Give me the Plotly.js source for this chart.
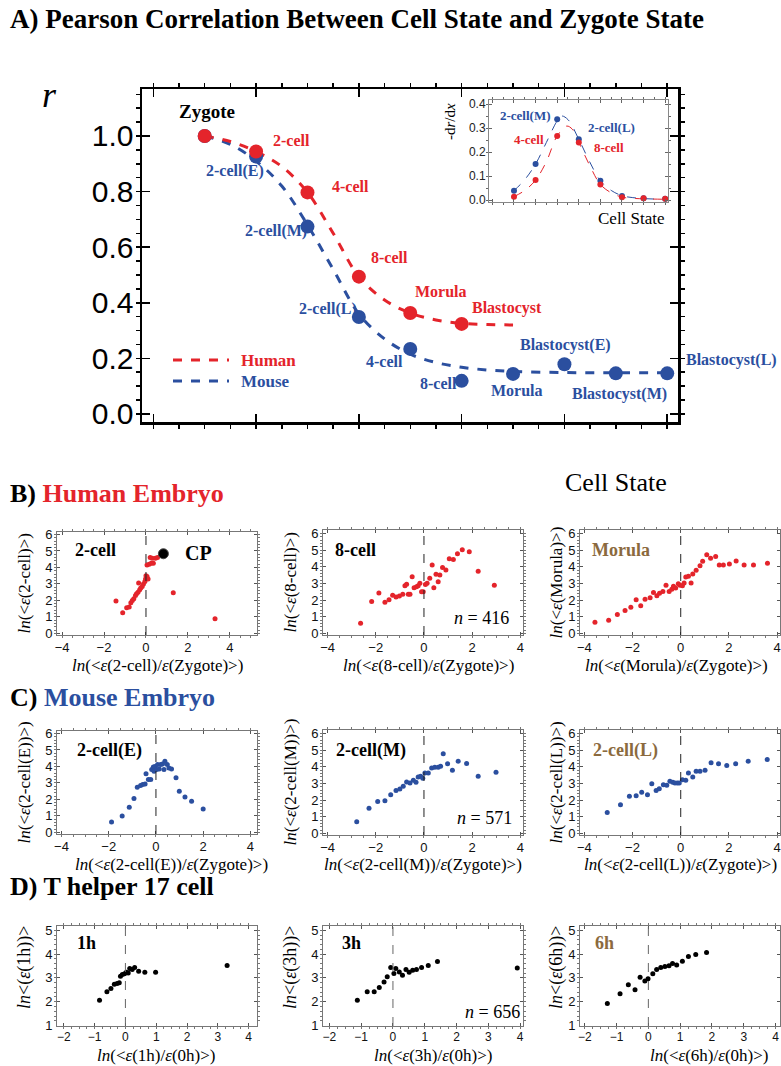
<!DOCTYPE html>
<html><head><meta charset="utf-8">
<script src="https://cdn.plot.ly/plotly-3.0.1.min.js"></script>
<style>html,body{margin:0;padding:0;background:#fff}#chart{width:781px;height:1066px}</style>
</head><body><div id="chart"></div>
<script>
// ---------- Panel A: main correlation ----------
const humanStages = ["Zygote","2-cell","4-cell","8-cell","Morula","Blastocyst"];
const humanR = [1.0, 0.944, 0.797, 0.494, 0.363, 0.324];
const mouseStages = ["Zygote","2-cell(E)","2-cell(M)","2-cell(L)","4-cell","8-cell","Morula","Blastocyst(E)","Blastocyst(M)","Blastocyst(L)"];
const mouseR = [1.0, 0.926, 0.674, 0.349, 0.234, 0.119, 0.144, 0.179, 0.146, 0.146];
const humanFitX = [1,1.5,2,2.5,3,3.5,4,4.5,5,5.5,6,6.5,7];
const humanFitR = [1.0,0.98,0.944,0.89,0.797,0.65,0.494,0.41,0.363,0.338,0.326,0.322,0.32];
const mouseFitX = [1,1.5,2,2.5,3,3.5,4,4.5,5,5.5,6,6.5,7,8,9,10];
const mouseFitR = [1.0,0.97,0.91,0.82,0.68,0.52,0.36,0.27,0.215,0.185,0.168,0.158,0.153,0.149,0.148,0.148];
const yTicksA = [0.0,0.2,0.4,0.6,0.8,1.0];

// ---------- Panel A inset: -dr/dx ----------
const insetBlue = [0.039,0.15,0.336,0.253,0.08,0.017,0.007,0.005];
const insetRed  = [0.014,0.083,0.267,0.24,0.065,0.011,0.007,0.005];
const insetBlueFitX = [1,1.5,2,2.5,3,3.2,3.5,4,4.5,5,5.5,6,6.5,7,7.5,8];
const insetBlueFitY = [0.039,0.085,0.15,0.24,0.33,0.35,0.335,0.253,0.16,0.08,0.04,0.018,0.01,0.006,0.004,0.003];
const insetRedFitX = [1,1.5,2,2.5,3,3.44,3.7,4,4.5,5,5.5,6,6.5,7,8];
const insetRedFitY = [0.014,0.04,0.083,0.16,0.267,0.308,0.295,0.24,0.145,0.065,0.03,0.012,0.007,0.005,0.003];

// ---------- Panel B: Human embryo ----------
const h2cellX = [-1.43,-1.11,-0.92,-0.8,-0.72,-0.65,-0.58,-0.5,-0.45,-0.38,-0.3,-0.25,-0.35,-0.18,-0.12,-0.05,-0.02,0.0,0.05,0.1,0.05,0.15,0.25,0.35,0.2,0.3,0.45,0.55,1.3,3.29];
const h2cellY = [1.97,1.25,1.55,1.6,1.85,2.0,2.1,2.3,2.4,2.5,2.65,2.75,3.05,2.85,3.0,3.15,3.3,3.5,3.45,3.3,4.15,4.2,4.25,4.25,4.6,4.55,4.55,4.6,2.46,0.88];
const cpX = [0.83], cpY = [4.83];
const h8cellX = [-2.63,-2.17,-1.87,-1.62,-1.45,-1.3,-1.16,-1.02,-0.88,-0.79,-0.72,-0.65,-0.58,-0.49,-0.41,-0.31,-0.24,-0.17,-0.1,-0.03,0.06,0.13,0.24,0.34,0.41,0.5,0.59,0.66,0.77,0.91,1.05,1.22,1.39,1.59,1.88,2.25,2.92];
const h8cellY = [0.6,1.91,2.42,1.87,2.02,2.28,2.18,2.24,2.35,2.85,2.95,2.35,2.35,3.4,2.74,2.8,2.85,3.0,2.5,2.5,2.93,3.0,3.3,4.1,2.74,3.54,3.1,3.5,3.95,3.8,4.47,4.43,4.77,5.02,4.9,3.72,2.88];
const hMorulaX = [-3.56,-2.99,-2.63,-2.31,-2.07,-1.85,-1.66,-1.48,-1.27,-1.13,-0.99,-0.88,-0.74,-0.61,-0.48,-0.37,-0.3,-0.21,-0.1,-0.03,0.07,0.14,0.21,0.32,0.43,0.5,0.64,0.8,0.91,1.08,1.24,1.45,1.6,1.77,2.02,2.3,2.63,3.02,3.6];
const hMorulaY = [0.66,0.79,1.13,1.37,1.57,2.01,1.65,2.05,2.13,2.45,2.25,2.41,2.51,2.88,2.51,2.65,2.82,2.72,2.98,2.88,2.86,3.02,3.38,3.42,3.02,3.56,3.78,4.06,4.32,4.72,4.51,4.61,4.1,4.1,4.16,4.34,4.1,4.1,4.2];

// ---------- Panel C: Mouse embryo ----------
const m2cellEX = [-1.88,-1.43,-1.13,-0.93,-0.79,-0.65,-0.56,-0.46,-0.42,-0.32,-0.22,-0.18,-0.11,-0.08,-0.04,0.03,0.07,0.14,0.2,0.28,0.34,0.38,0.48,0.55,0.66,0.85,0.99,1.23,1.51,2.0];
const m2cellEY = [0.63,0.99,1.52,2.05,2.74,2.84,2.9,2.94,3.55,3.2,3.2,3.81,3.97,3.71,4.0,3.81,4.11,3.85,4.11,4.15,3.81,4.31,4.11,3.91,3.85,3.31,2.5,2.15,1.88,1.42];
const m2cellMX = [-2.79,-2.28,-1.92,-1.62,-1.38,-1.16,-1.0,-0.86,-0.72,-0.58,-0.44,-0.33,-0.24,-0.14,-0.05,0.04,0.18,0.32,0.45,0.59,0.69,0.8,0.98,1.18,1.42,1.77,2.25,2.99];
const m2cellMY = [0.7,1.5,1.91,1.95,2.31,2.57,2.66,2.82,3.08,3.02,3.18,3.06,3.38,3.42,3.3,3.62,3.62,3.92,3.96,3.96,4.02,4.77,4.17,3.78,4.33,4.19,3.42,3.66];
const m2cellLX = [-3.05,-2.5,-2.13,-1.85,-1.62,-1.38,-1.2,-1.02,-0.89,-0.72,-0.58,-0.45,-0.33,-0.24,-0.14,-0.06,0.07,0.21,0.32,0.5,0.64,0.8,1.01,1.26,1.57,1.91,2.28,2.8,3.59];
const m2cellLY = [1.25,1.72,2.22,2.26,2.46,2.31,2.98,2.57,2.67,2.92,2.88,3.12,3.06,3.02,3.02,3.02,3.22,3.18,3.62,3.38,3.72,3.72,3.78,4.23,4.17,4.07,4.17,4.33,4.43];

// ---------- Panel D: T helper 17 cell ----------
const th1hX = [-0.84,-0.6,-0.47,-0.36,-0.27,-0.2,-0.16,-0.1,-0.03,0.03,0.09,0.14,0.22,0.3,0.43,0.63,0.98,3.3];
const th1hY = [2.06,2.42,2.55,2.73,2.77,2.8,3.07,3.14,3.17,3.24,3.21,3.39,3.35,3.44,3.28,3.24,3.24,3.52];
const th3hX = [-1.12,-0.81,-0.59,-0.43,-0.28,-0.18,-0.07,0.03,0.09,0.2,0.3,0.41,0.51,0.62,0.74,0.9,1.11,1.4,3.91];
const th3hY = [2.06,2.42,2.42,2.6,2.83,3.05,3.44,3.18,3.39,3.25,3.11,3.35,3.24,3.32,3.35,3.44,3.52,3.69,3.42];
const th6hX = [-1.29,-0.89,-0.63,-0.42,-0.26,-0.11,-0.01,0.14,0.26,0.39,0.52,0.65,0.76,0.89,1.07,1.26,1.49,1.83];
const th6hY = [1.92,2.33,2.71,2.5,3.03,2.87,2.96,3.17,3.35,3.44,3.48,3.51,3.61,3.54,3.7,3.9,3.98,4.07];

// ---------- styling ----------
const W = 781, H = 1066;
const RED = '#e4242b', BLUE = '#2b4f9f', BROWN = '#8b6a3e', BLACK = '#000';
const SERIF = 'Liberation Serif, Times New Roman, serif';
const SANS = 'Liberation Sans, Arial, sans-serif';
const pxX = v => v / W;
const pxY = v => 1 - v / H;
const dom = (a, b) => [a / W, b / W];
const domY = (top, bottom) => [1 - bottom / H, 1 - top / H];

const traces = [];
const idxH = humanStages.map((_, i) => i + 1);
const idxM = mouseStages.map((_, i) => i + 1);
traces.push({x: mouseFitX, y: mouseFitR, xaxis: 'x', yaxis: 'y', mode: 'lines', line: {color: BLUE, width: 3, dash: 'dash', shape: 'spline'}, hoverinfo: 'skip'});
traces.push({x: humanFitX, y: humanFitR, xaxis: 'x', yaxis: 'y', mode: 'lines', line: {color: RED, width: 3, dash: 'dash', shape: 'spline'}, hoverinfo: 'skip'});
traces.push({x: idxM, y: mouseR, text: mouseStages, xaxis: 'x', yaxis: 'y', mode: 'markers', marker: {color: BLUE, size: 14}});
traces.push({x: idxH, y: humanR, text: humanStages, xaxis: 'x', yaxis: 'y', mode: 'markers', marker: {color: RED, size: 14}});

const idxI = insetBlue.map((_, i) => i + 1);
traces.push({x: insetBlueFitX, y: insetBlueFitY, xaxis: 'x2', yaxis: 'y2', mode: 'lines', line: {color: BLUE, width: 1, dash: 'dash', shape: 'spline'}});
traces.push({x: insetRedFitX, y: insetRedFitY, xaxis: 'x2', yaxis: 'y2', mode: 'lines', line: {color: RED, width: 1, dash: 'dash', shape: 'spline'}});
traces.push({x: idxI, y: insetBlue, xaxis: 'x2', yaxis: 'y2', mode: 'markers', marker: {color: BLUE, size: 6}});
traces.push({x: idxI, y: insetRed, xaxis: 'x2', yaxis: 'y2', mode: 'markers', marker: {color: RED, size: 6}});

const panels = [
  {n: 3, xd: [57, 257], yd: [532, 635], xr: [-4.24, 5.29], yr: [-0.1, 6.15], xdt: 2, xs: h2cellX, ys: h2cellY, c: RED},
  {n: 4, xd: [323, 523], yd: [530, 635], xr: [-4.19, 4.11], yr: [-0.1, 6.2], xdt: 2, xs: h8cellX, ys: h8cellY, c: RED},
  {n: 5, xd: [580, 780], yd: [530, 635], xr: [-4.18, 4.12], yr: [-0.1, 6.2], xdt: 2, xs: hMorulaX, ys: hMorulaY, c: RED},
  {n: 6, xd: [57, 257], yd: [731, 834], xr: [-4.19, 4.28], yr: [-0.1, 6.15], xdt: 2, xs: m2cellEX, ys: m2cellEY, c: BLUE},
  {n: 7, xd: [323, 523], yd: [730, 835], xr: [-4.19, 4.11], yr: [-0.1, 6.2], xdt: 2, xs: m2cellMX, ys: m2cellMY, c: BLUE},
  {n: 8, xd: [580, 780], yd: [730, 835], xr: [-4.18, 4.12], yr: [-0.1, 6.2], xdt: 2, xs: m2cellLX, ys: m2cellLY, c: BLUE},
  {n: 9, xd: [57, 257], yd: [926, 1026], xr: [-2.22, 4.27], yr: [0.98, 5.18], xdt: 1, xs: th1hX, ys: th1hY, c: BLACK},
  {n: 10, xd: [323, 523], yd: [926, 1026], xr: [-2.2, 4.09], yr: [0.98, 5.18], xdt: 1, xs: th3hX, ys: th3hY, c: BLACK},
  {n: 11, xd: [580, 780], yd: [926, 1026], xr: [-2.15, 4.14], yr: [0.98, 5.18], xdt: 1, xs: th6hX, ys: th6hY, c: BLACK}
];

const layout = {
  width: W, height: H, margin: {l: 0, r: 0, t: 0, b: 0},
  paper_bgcolor: '#fff', plot_bgcolor: '#fff', showlegend: false,
  xaxis: {domain: dom(142, 678), range: [-0.22, 10.21], anchor: 'y', showgrid: false, zeroline: false,
    showline: true, linecolor: '#000', linewidth: 2.5, mirror: 'allticks', ticks: 'inside', ticklen: 8, tickwidth: 1.5,
    tickcolor: '#000', tick0: 0, dtick: 2, showticklabels: false,
    minor: {dtick: 0.5, ticklen: 4, tickwidth: 1.5, tickcolor: '#000', showgrid: false}},
  yaxis: {domain: domY(89, 422), range: [-0.029, 1.169], anchor: 'x', showgrid: false, zeroline: false,
    showline: true, linecolor: '#000', linewidth: 2.5, mirror: 'allticks', ticks: 'inside', ticklen: 8, tickwidth: 1.5,
    tickcolor: '#000', tickvals: yTicksA, tickformat: '.1f', tickfont: {family: SANS, size: 30, color: '#000'},
    minor: {dtick: 0.05, ticklen: 4, tickwidth: 1.5, tickcolor: '#000', showgrid: false}},
  xaxis2: {domain: dom(489, 668), range: [-0.157, 8.13], anchor: 'y2', showgrid: false, zeroline: false,
    showline: true, linecolor: '#888', linewidth: 1, mirror: 'allticks', ticks: 'inside', ticklen: 3, tickcolor: '#666',
    dtick: 1, tick0: 0, showticklabels: false, minor: {dtick: 0.5, ticklen: 2, tickcolor: '#666'}},
  yaxis2: {domain: domY(100, 202), range: [-0.0083, 0.4167], anchor: 'x2', showgrid: false, zeroline: false,
    showline: true, linecolor: '#888', linewidth: 1, mirror: 'allticks', ticks: 'inside', ticklen: 3, tickcolor: '#666',
    dtick: 0.1, tickformat: '.1f', tickfont: {family: SANS, size: 12, color: '#222'},
    minor: {dtick: 0.05, ticklen: 2, tickcolor: '#666'}},
  shapes: [], annotations: []
};

panels.forEach(p => {
  const xa = 'xaxis' + p.n, ya = 'yaxis' + p.n;
  layout[xa] = {domain: dom(p.xd[0], p.xd[1]), range: p.xr, anchor: 'y' + p.n, showgrid: false, zeroline: false,
    showline: true, linecolor: '#777', linewidth: 1, mirror: 'allticks', ticks: 'inside', ticklen: 3, tickcolor: '#555',
    dtick: p.xdt, tick0: 0, tickfont: {family: SANS, size: p.n >= 9 ? 12 : 13, color: '#111'},
    minor: {dtick: p.xdt / 4, ticklen: 2, tickcolor: '#777'}};
  layout[ya] = {domain: domY(p.yd[0], p.yd[1]), range: p.yr, anchor: 'x' + p.n, showgrid: false, zeroline: false,
    showline: true, linecolor: '#777', linewidth: 1, mirror: 'allticks', ticks: 'inside', ticklen: 3, tickcolor: '#555',
    dtick: 1, tick0: 0, tickfont: {family: SANS, size: 13, color: '#111'}, ticklabelstandoff: 1,
    minor: {dtick: 0.2, ticklen: 2, tickcolor: '#777'}};
  layout.shapes.push({type: 'line', xref: 'x' + p.n, yref: 'y' + p.n + ' domain', x0: 0, x1: 0, y0: 0, y1: 1,
    line: {color: p.n >= 9 ? '#666' : '#222', width: 1, dash: 'dash'}});
  traces.push({x: p.xs, y: p.ys, xaxis: 'x' + p.n, yaxis: 'y' + p.n, mode: 'markers', marker: {color: p.c, size: 5}});
});
traces.push({x: cpX, y: cpY, xaxis: 'x3', yaxis: 'y3', mode: 'markers', marker: {color: '#000', size: 10, line: {color: '#444', width: 1}}});

// legend samples for panel A
layout.shapes.push({type: 'line', xref: 'paper', yref: 'paper', x0: pxX(173), x1: pxX(229), y0: pxY(360), y1: pxY(360), line: {color: RED, width: 3, dash: 'dash'}});
layout.shapes.push({type: 'line', xref: 'paper', yref: 'paper', x0: pxX(173), x1: pxX(229), y0: pxY(381), y1: pxY(381), line: {color: BLUE, width: 3, dash: 'dash'}});

const A = layout.annotations;
function ann(text, x, y, o) {
  A.push(Object.assign({text: text, x: pxX(x), y: pxY(y), xref: 'paper', yref: 'paper', showarrow: false,
    xanchor: 'left', yanchor: 'middle', font: {family: SERIF, size: 16, color: '#000'}}, o || {}));
}
const bf = (c, s) => ({family: SERIF, size: s, color: c});

// titles
ann('<b>A) Pearson Correlation Between Cell State and Zygote State</b>', 8, 19, {font: bf('#000', 27)});
ann('<b>B) <span style="color:' + RED + '">Human Embryo</span></b>', 8, 494, {font: bf('#000', 26)});
ann('<b>C) <span style="color:' + BLUE + '">Mouse Embryo</span></b>', 8, 697, {font: bf('#000', 26)});
ann('<b>D) T helper 17 cell</b>', 8, 886, {font: bf('#000', 26)});

// panel A text
ann('<i>r</i>', 49, 95, {xanchor: 'center', font: bf('#000', 36)});
ann('Cell State', 616, 482, {xanchor: 'center', font: bf('#000', 26)});
ann('<b>Zygote</b>', 177, 112, {font: bf('#000', 19)});
const lblA = [
  [humanStages[1], 271, 140, RED], [mouseStages[1], 204, 171, BLUE], [humanStages[2], 330, 186, RED],
  [mouseStages[2], 243, 231, BLUE], [humanStages[3], 369, 257, RED], [humanStages[4], 413, 291, RED],
  [humanStages[5], 470, 308, RED], [mouseStages[3], 297, 309, BLUE], [mouseStages[7], 518, 345, BLUE],
  [mouseStages[4], 364, 361, BLUE], [mouseStages[9], 684, 360, BLUE], [mouseStages[5], 418, 384, BLUE],
  [mouseStages[6], 489, 390, BLUE], [mouseStages[8], 570, 394, BLUE]
];
lblA.forEach(l => ann('<b>' + l[0] + '</b>', l[1], l[2], {font: bf(l[3], 16)}));
ann('<b>Human</b>', 239, 360, {font: bf(RED, 17)});
ann('<b>Mouse</b>', 239, 381, {font: bf(BLUE, 17)});

// inset text
ann('<b>2-cell(M)</b>', 498, 115, {font: bf(BLUE, 13)});
ann('<b>2-cell(L)</b>', 586, 127, {font: bf(BLUE, 13)});
ann('<b>4-cell</b>', 512, 139, {font: bf(RED, 13)});
ann('<b>8-cell</b>', 592, 147, {font: bf(RED, 13)});
ann('-d<i>r</i>/d<i>x</i>', 450, 122, {xanchor: 'center', textangle: -90, font: bf('#000', 15)});
ann('Cell State', 667, 218, {xanchor: 'right', font: bf('#000', 17)});

// small panel texts
const yTitles = ['2-cell', '8-cell', 'Morula', '2-cell(E)', '2-cell(M)', '2-cell(L)'];
const xTitleShift = [0, 5, -4, 14, 0, 0];
const dTitleLeft = [95, 372, 648];
panels.forEach((p, i) => {
  const cx = (p.xd[0] + p.xd[1]) / 2, cy = (p.yd[0] + p.yd[1]) / 2;
  const ytx = [24, 290, 556][i % 3];
  let yt, xt, fs;
  if (i < 6) {
    const s = yTitles[i];
    yt = '<i>ln</i>(&lt;<i>ε</i>(' + s + ')&gt;)';
    xt = '<i>ln</i>(&lt;<i>ε</i>(' + s + ')/<i>ε</i>(Zygote)&gt;)';
    fs = 17;
    ann(xt, cx + xTitleShift[i], i < 3 ? 665 : 864, {xanchor: 'center', font: bf('#000', fs)});
  } else {
    const s = ['1h', '3h', '6h'][i - 6];
    yt = '<i>ln</i>&lt;(<i>ε</i>(' + s + '))&gt;';
    xt = '<i>ln</i>(&lt;<i>ε</i>(' + s + ')/<i>ε</i>(0h)&gt;)';
    fs = 18;
    ann(xt, dTitleLeft[i - 6], 1055, {xanchor: 'left', font: bf('#000', 17)});
  }
  ann(yt, ytx, cy - (i >= 6 ? 8 : 0), {xanchor: 'center', textangle: -90, font: bf('#000', fs)});
});
ann('<b>2-cell</b>', 73, 550, {font: bf('#000', 18)});
ann('<b>CP</b>', 183, 553, {font: bf('#000', 20)});
ann('<b>8-cell</b>', 333, 550, {font: bf('#000', 18)});
ann('<i>n</i> = 416', 452, 618, {font: bf('#000', 18)});
ann('<b>Morula</b>', 590, 550, {font: bf(BROWN, 18)});
ann('<b>2-cell(E)</b>', 75, 750, {font: bf('#000', 18)});
ann('<b>2-cell(M)</b>', 334, 750, {font: bf('#000', 18)});
ann('<i>n</i> = 571', 455, 818, {font: bf('#000', 18)});
ann('<b>2-cell(L)</b>', 591, 750, {font: bf(BROWN, 18)});
ann('<b>1h</b>', 75, 943, {font: bf('#000', 18)});
ann('<b>3h</b>', 340, 943, {font: bf('#000', 18)});
ann('<i>n</i> = 656', 463, 1012, {font: bf('#000', 18)});
ann('<b>6h</b>', 593, 943, {font: bf(BROWN, 18)});

Plotly.newPlot('chart', traces, layout, {staticPlot: true, displayModeBar: false});
</script></body></html>
